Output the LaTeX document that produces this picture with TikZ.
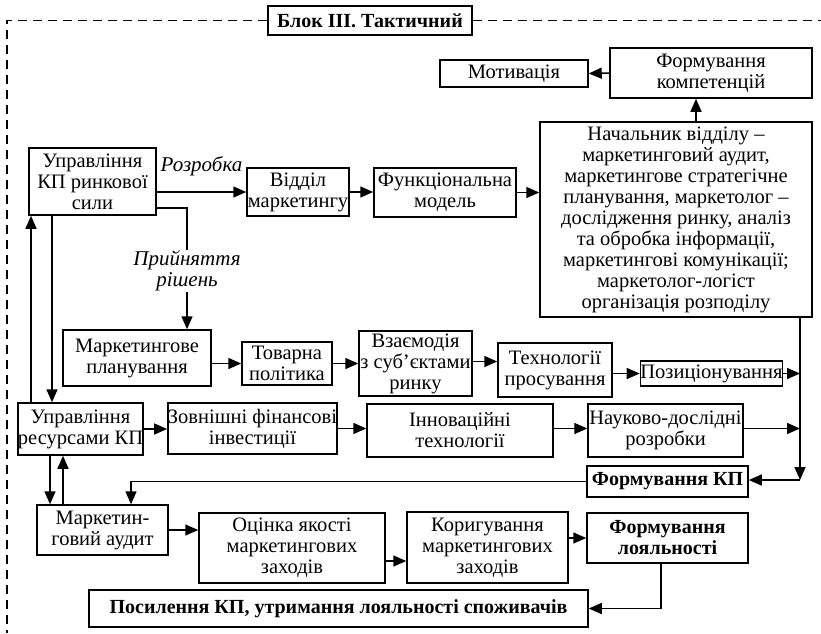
\documentclass[tikz,border=0pt]{standalone}
\usepackage{fontspec}
\setmainfont{Liberation Serif}
\usetikzlibrary{arrows.meta}

\begin{document}
\begin{tikzpicture}[x=1pt, y=-1pt, line width=1.5pt,
    >={Triangle[length=13pt, width=11pt]},
    box/.style={draw, align=center, inner xsep=0pt, inner ysep=1pt,
        font=\fontsize{20.5}{21}\selectfont},
    bbox/.style={box, font=\fontsize{20}{21}\selectfont\bfseries},
    note/.style={align=center, inner sep=1pt,
        font=\fontsize{21}{21}\selectfont\itshape}]
    \useasboundingbox (0,0) rectangle (821,633);

    % block frame
    \node[bbox, minimum width=204pt, minimum height=29pt] (title) at (370,20.5)
    {Блок ІІІ. Тактичний};
    \coordinate (frameL) at (7,20.5);
    \coordinate (frameB) at (7,633);
    \coordinate (frameR) at (821,20.5);
    \draw[dash pattern=on 9pt off 6pt, line width=1.3pt] (title.west) -- (frameL)
    -- (frameB);
    \draw[dash pattern=on 9pt off 6pt, line width=1.3pt] (title.east) -- (frameR);

    % top part
    \node[box, minimum width=148pt, minimum height=27pt] (mot) at (514,73.5)
    {Мотивація};
    \node[box, minimum width=202pt, minimum height=50pt] (komp) at (711,73)
    {Формування\\компетенцій};
    \node[box, minimum width=272pt, minimum height=195pt] (nach) at (676,219.5)
    {Начальник відділу –\\маркетинговий аудит,\\маркетингове стратегічне\\
    планування, маркетолог –\\дослідження ринку, аналіз\\та обробка інформації,\\
    маркетингові комунікації;\\маркетолог-логіст\\організація розподілу};
    \node[box, minimum width=127pt, minimum height=67pt] (ukp) at (92.5,181.5)
    {Управління\\КП ринкової\\сили};
    \node[box, minimum width=102pt, minimum height=48pt] (vm) at (298,192)
    {Відділ\\маркетингу};
    \node[box, minimum width=142pt, minimum height=49pt] (fm) at (445,192.5)
    {Функціональна\\модель};

    % planning row
    \node[box, minimum width=148pt, minimum height=56pt] (mp) at (137,358)
    {Маркетингове\\планування};
    \node[box, minimum width=90pt, minimum height=43pt] (tp) at (287,363.5)
    {Товарна\\політика};
    \node[box, minimum width=113pt, minimum height=65pt] (vz) at (415.5,363.5)
    {Взаємодія\\з суб’єктами\\ринку};
    \node[box, minimum width=114pt, minimum height=54pt] (tpr) at (555,370)
    {Технології\\просування};
    \node[box, minimum width=141pt, minimum height=25pt] (poz) at (711.5,373.5)
    {Позиціонування};

    % resources row
    \node[box, minimum width=125pt, minimum height=52pt] (urkp) at (80.5,429)
    {Управління\\ресурсами КП};
    \node[box, minimum width=169pt, minimum height=51pt] (zfi) at (252.5,428.5)
    {Зовнішні фінансові\\інвестиції};
    \node[box, minimum width=186pt, minimum height=53pt] (it) at (460,430.5)
    {Інноваційні\\технології};
    \node[box, minimum width=155pt, minimum height=53pt] (ndr) at (665.5,430.5)
    {Науково-дослідні\\розробки};
    \node[bbox, minimum width=161pt, minimum height=31pt] (fkp) at (667.5,481.5)
    {Формування КП};

    % audit row
    \node[box, minimum width=131pt, minimum height=50pt] (ma) at (102.5,530)
    {Маркетин-\\говий аудит};
    \node[box, minimum width=186pt, minimum height=70pt] (oya) at (292,548)
    {Оцінка якості\\маркетингових\\заходів};
    \node[box, minimum width=161pt, minimum height=71pt] (kor) at (487.5,547.5)
    {Коригування\\маркетингових\\заходів};
    \node[bbox, minimum width=161pt, minimum height=50pt] (fl) at (667.5,538)
    {Формування\\лояльності};
    \node[bbox, minimum width=499pt, minimum height=37pt] (pos) at (338.5,608.5)
    {Посилення КП, утримання лояльності споживачів};

    % connectors
    \draw[->] (komp.west) -- (mot.east);
    \draw[->] ([xshift=20pt]nach.north) -- ([xshift=20pt]nach.north |- komp.south);
    \draw[->] (ukp.east |- vm.west) -- node[note, above=14pt] {Розробка} (vm.west);
    \draw[->] (vm.east) -- (vm.east -| fm.west);
    \draw[->] (fm.east) -- (fm.east -| nach.west);
    \draw[->] ([yshift=-26.5pt]ukp.east) -| node[note, pos=0.76, fill=white]
    {Прийняття\\рішень} ([xshift=50pt]mp.north);
    \draw[->] ([xshift=-49.5pt]urkp.north) -- ([xshift=-49.5pt]urkp.north |- ukp.south);
    \draw[->] ([xshift=-40.5pt]ukp.south) -- ([xshift=-40.5pt]ukp.south |- urkp.north);
    \draw[->] (mp.east |- tp.west) -- (tp.west);
    \draw[->] (tp.east) -- (tp.east -| vz.west);
    \draw[->] ([yshift=2pt]vz.east) -- ([yshift=2pt]vz.east -| tpr.west);
    \draw[->] (tpr.east |- poz.west) -- (poz.west);
    \draw[->] (urkp.east) -- (urkp.east -| zfi.west);
    \draw[->] (zfi.east) -- (zfi.east -| it.west);
    \draw[->] ([yshift=2pt]it.east) -- ([yshift=2pt]it.east -| ndr.west);
    \coordinate (trunk) at (800,480);
    \draw[->] (nach.south -| trunk) -- (trunk);
    \draw[->] (poz.east) -- (poz.east -| trunk);
    \draw[->] ([yshift=2pt]ndr.east) -- ([yshift=2pt]ndr.east -| trunk);
    \draw[->] (trunk) -- (trunk -| fkp.east);
    \draw[->] (fkp.west) -| ([xshift=28.5pt]ma.north);
    \draw[->] ([xshift=-39.5pt]ma.north) -- ([xshift=-39.5pt]ma.north |- urkp.south);
    \draw[->] ([xshift=-30.5pt]urkp.south) -- ([xshift=-30.5pt]urkp.south |- ma.north);
    \draw[->] (ma.east) -- (ma.east -| oya.west);
    \draw[->] ([yshift=-13pt]oya.east) -- ([yshift=-13pt]oya.east -| kor.west);
    \draw[->] (kor.east |- fl.west) -- (fl.west);
    \draw[->] ([xshift=-6.5pt]fl.south) |- (pos.east);
\end{tikzpicture}
\end{document}
